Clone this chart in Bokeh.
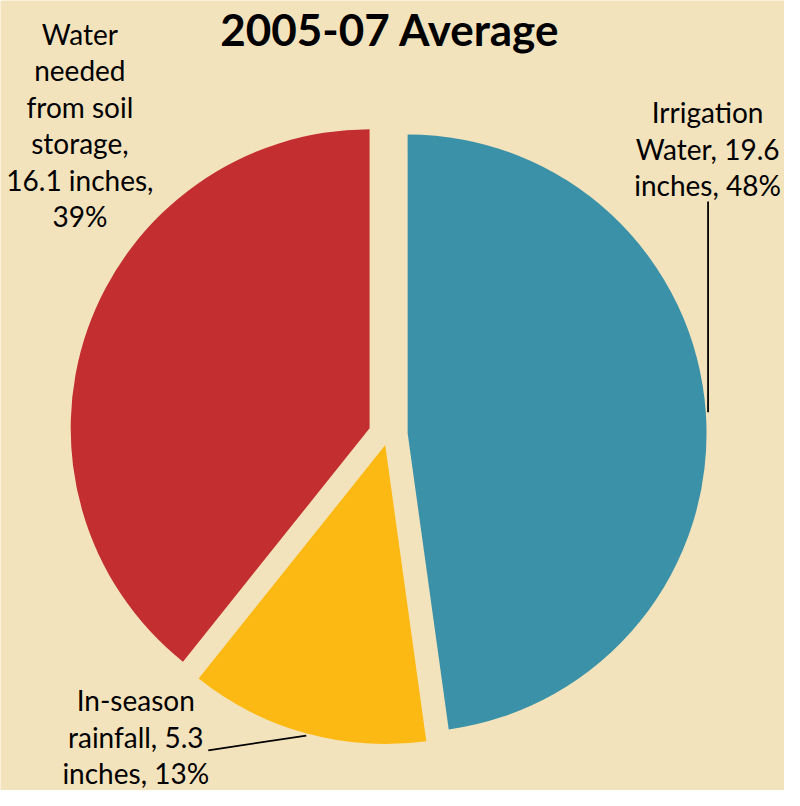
import math
from bokeh.plotting import figure
from bokeh.models import Range1d, ColumnDataSource
from bokeh.core.properties import value
from bokeh.embed import file_html
from bokeh.resources import INLINE

# ---- data ----
title_text = "2005-07 Average"
categories = ["Irrigation Water", "In-season rainfall", "Water needed from soil storage"]
inches = [19.6, 5.3, 16.1]
percents = [48, 13, 39]
label_lines = [
    ["Irrigation", "Water, 19.6", "inches, 48%"],
    ["In-season", "rainfall, 5.3", "inches, 13%"],
    ["Water", "needed", "from soil", "storage,", "16.1 inches,", "39%"],
]
colors = ["#3A91A8", "#FDB913", "#C32E30"]

# ---- style / layout ----
BG = "#F3E3BC"
FONT = "Lato"
cx, cy = 395.5, -443.0      # pie centre (reference px, y flipped)
radius = 305
explode = [20, 11, 20]

p = figure(width=784, height=790, output_backend="svg", toolbar_location=None,
           x_range=Range1d(0, 800), y_range=Range1d(-806, 0), min_border=0,
           background_fill_color=BG, border_fill_color=BG, outline_line_color=None)
p.axis.visible = False
p.grid.visible = False

total = sum(inches)
starts, ends, xs, ys = [], [], [], []
acc = 0.0
for v, d in zip(inches, explode):
    t1 = acc / total * 2 * math.pi          # clockwise from top
    acc += v
    t2 = acc / total * 2 * math.pi
    mid = (t1 + t2) / 2
    starts.append(math.pi / 2 - t2)
    ends.append(math.pi / 2 - t1)
    xs.append(cx + d * math.sin(mid))
    ys.append(cy + d * math.cos(mid))

src = ColumnDataSource(dict(x=xs, y=ys, start=starts, end=ends, color=colors))
p.wedge(x="x", y="y", radius=radius, start_angle="start", end_angle="end",
        fill_color="color", line_color=None, source=src)

# leader lines
p.line(x=[722, 722], y=[-205, -420], line_color="black", line_width=1.8)
p.line(x=[212, 312], y=[-765, -750], line_color="black", line_width=1.8)

# labels
label_pos = [(721.5, -114), (138, -714), (81, -34)]
line_gap = 37.2
for lines, (lx, ly) in zip(label_lines, label_pos):
    tx = [lx] * len(lines)
    ty = [ly - i * line_gap for i in range(len(lines))]
    p.text(x=tx, y=ty, text=lines, text_align="center", text_baseline="middle",
           text_font=value(FONT), text_font_size="28px", text_color="black")

p.text(x=[397.5], y=[-29], text=[title_text], text_align="center", text_baseline="middle",
       text_font=value(FONT), text_font_size="44px", text_font_style="bold",
       text_color="black")

open("out.html", "w").write(file_html(p, INLINE))
